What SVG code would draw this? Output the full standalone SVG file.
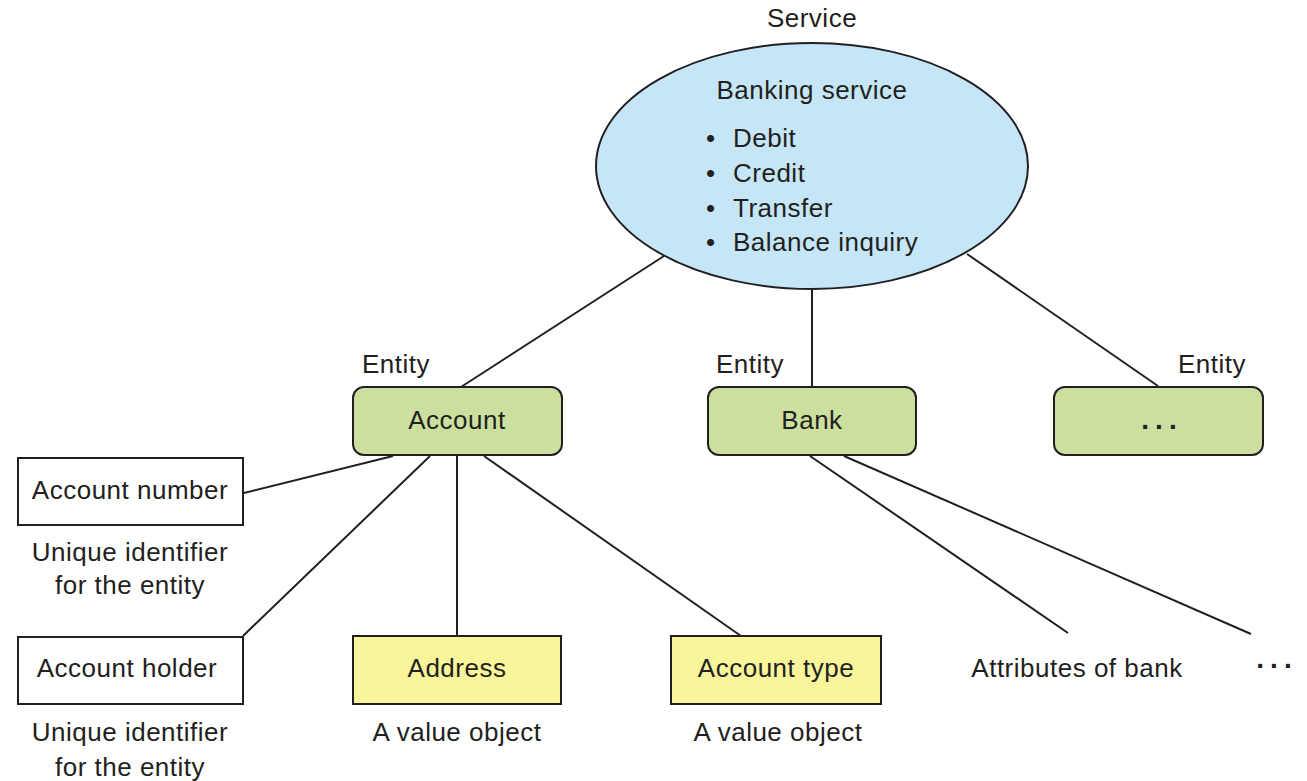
<svg xmlns="http://www.w3.org/2000/svg" width="1307" height="781" viewBox="0 0 1307 781">
<style>
text{font-family:"Liberation Sans",Arial,sans-serif;font-size:26px;letter-spacing:0.5px;fill:#231f20}
.c{text-anchor:middle}
.dots{font-weight:bold;font-size:28px;letter-spacing:6px}
.ent{fill:#cbe09f;stroke:#231f20;stroke-width:2}
.val{fill:#f8f59b;stroke:#231f20;stroke-width:2}
.plain{fill:#fff;stroke:#231f20;stroke-width:2}
#connectors line{stroke:#231f20;stroke-width:2}
</style>
<rect width="1307" height="781" fill="#fff"/>
<g id="connectors">
<line x1="664" y1="256" x2="461" y2="387"/>
<line x1="812" y1="289" x2="812" y2="387"/>
<line x1="967" y1="254" x2="1158" y2="386"/>
<line x1="393" y1="456" x2="244" y2="493"/>
<line x1="430" y1="456" x2="243" y2="636"/>
<line x1="457" y1="456" x2="457" y2="636"/>
<line x1="484" y1="456" x2="741" y2="636"/>
<line x1="810" y1="456" x2="1068" y2="633"/>
<line x1="844" y1="456" x2="1251" y2="634"/>
</g>
<g id="service">
<text class="c" x="812" y="27">Service</text>
<ellipse cx="812" cy="166" rx="216" ry="123" fill="#c5e6f6" stroke="#231f20" stroke-width="2"/>
<text class="c" x="812" y="99">Banking service</text>
<text x="706" y="147">•</text><text x="733" y="147">Debit</text>
<text x="706" y="182">•</text><text x="733" y="182">Credit</text>
<text x="706" y="217">•</text><text x="733" y="217">Transfer</text>
<text x="706" y="251">•</text><text x="733" y="251">Balance inquiry</text>
</g>
<g id="account">
<text class="c" x="396" y="373">Entity</text>
<rect class="ent" x="353" y="387" width="209" height="68" rx="11"/>
<text class="c" x="457" y="429">Account</text>
</g>
<g id="bank">
<text class="c" x="750" y="373">Entity</text>
<rect class="ent" x="708" y="387" width="208" height="68" rx="11"/>
<text class="c" x="812" y="429">Bank</text>
</g>
<g id="entity-more">
<text class="c" x="1212" y="373">Entity</text>
<rect class="ent" x="1054" y="387" width="209" height="68" rx="11"/>
<text class="c dots" x="1162" y="429">...</text>
</g>
<g id="account-number">
<rect class="plain" x="18" y="458" width="225" height="67"/>
<text class="c" x="130" y="499">Account number</text>
<text class="c" x="130" y="561">Unique identifier</text>
<text class="c" x="130" y="594">for the entity</text>
</g>
<g id="account-holder">
<rect class="plain" x="18" y="637" width="225" height="67"/>
<text class="c" x="127" y="677">Account holder</text>
<text class="c" x="130" y="741">Unique identifier</text>
<text class="c" x="130" y="776">for the entity</text>
</g>
<g id="address">
<rect class="val" x="353" y="636" width="208" height="68"/>
<text class="c" x="457" y="677">Address</text>
<text class="c" x="457" y="741">A value object</text>
</g>
<g id="account-type">
<rect class="val" x="671" y="636" width="210" height="68"/>
<text class="c" x="776" y="677">Account type</text>
<text class="c" x="778" y="741">A value object</text>
</g>
<g id="bank-attrs">
<text class="c" x="1077" y="677">Attributes of bank</text>
<text class="c dots" x="1277" y="668">...</text>
</g>
</svg>
